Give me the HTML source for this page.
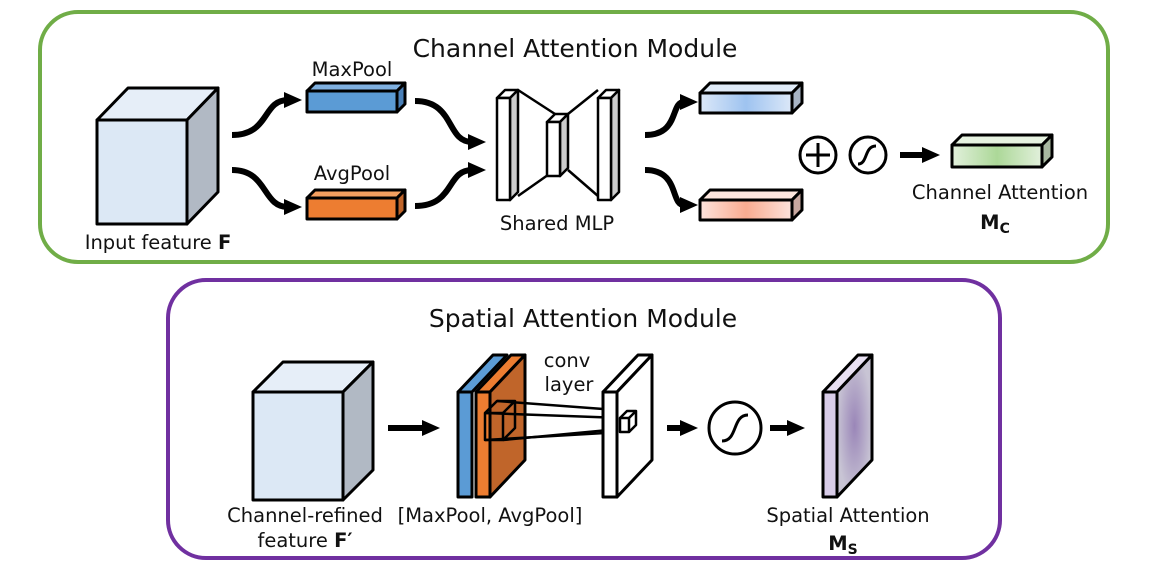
<!DOCTYPE html>
<html><head><meta charset="utf-8"><style>
body{margin:0;background:#fff}
svg{display:block}
text{font-family:"DejaVu Sans","Liberation Sans",sans-serif;fill:#111}
</style></head><body>
<svg width="1171" height="577" viewBox="0 0 1171 577" xmlns="http://www.w3.org/2000/svg">
<defs>
<marker id="ah" markerWidth="20" markerHeight="20" refX="4" refY="9" orient="auto" markerUnits="userSpaceOnUse">
<path d="M0,1 L18,9 L0,17 Z" fill="#000"/></marker>
<linearGradient id="gb" x1="0" x2="1"><stop offset="0" stop-color="#dce8f8"/><stop offset=".5" stop-color="#9ec3f0"/><stop offset="1" stop-color="#dce8f8"/></linearGradient>
<linearGradient id="gp" x1="0" x2="1"><stop offset="0" stop-color="#fde3dc"/><stop offset=".5" stop-color="#f9ab90"/><stop offset="1" stop-color="#fde3dc"/></linearGradient>
<linearGradient id="gg" x1="0" x2="1"><stop offset="0" stop-color="#e2f0dc"/><stop offset=".5" stop-color="#acd898"/><stop offset="1" stop-color="#e2f0dc"/></linearGradient>
<radialGradient id="gm"><stop offset="0" stop-color="#9a86b8"/><stop offset="1" stop-color="#c8c4d4"/></radialGradient>
</defs>
<g stroke="#000" stroke-width="3" stroke-linejoin="round">
<rect x="40" y="12" width="1068" height="250" rx="38" fill="none" stroke="#70ad47" stroke-width="4"/>
<rect x="168" y="280" width="832" height="278" rx="38" fill="none" stroke="#7030a0" stroke-width="4"/>

<polygon points="97,120 128,88 218,88 187,120" fill="#e6eef8"/>
<polygon points="187,120 218,88 218,192 187,224" fill="#b1b9c4"/>
<rect x="97" y="120" width="90" height="104" fill="#dce8f5"/>

<polygon points="307,91 315,83 405,83 397,91" fill="#7fb0e0"/>
<polygon points="397,91 405,83 405,104 397,112" fill="#4a80b8"/>
<rect x="307" y="91" width="90" height="21" fill="#5b9bd5"/>
<polygon points="307,198 315,190 405,190 397,198" fill="#f4a060"/>
<polygon points="397,198 405,190 405,211 397,219" fill="#c0652a"/>
<rect x="307" y="198" width="90" height="21" fill="#ed7d31"/>

<g fill="none" stroke-width="6">
<path d="M232,135 C270,135 262,100 288,100" marker-end="url(#ah)"/>
<path d="M232,170 C268,170 262,207 288,207" marker-end="url(#ah)"/>
<path d="M415,101 C455,101 446,142 472,142" marker-end="url(#ah)"/>
<path d="M415,206 C455,206 446,170 472,170" marker-end="url(#ah)"/>
<path d="M645,135 C680,135 670,102 684,102" marker-end="url(#ah)"/>
<path d="M645,170 C680,170 670,205 684,205" marker-end="url(#ah)"/>
<path d="M900,155 L926,155" marker-end="url(#ah)"/>
<path d="M388,428 L426,428" marker-end="url(#ah)"/>
<path d="M667,428 L684,428" marker-end="url(#ah)"/>
<path d="M770,428 L791,428" marker-end="url(#ah)"/>
</g>

<g stroke-width="2.5">
<line x1="518" y1="90" x2="555" y2="114"/><line x1="518" y1="196" x2="555" y2="170"/>
<line x1="598" y1="90" x2="568" y2="114"/><line x1="598" y1="196" x2="568" y2="170"/>
<polygon points="497,98 505,90 518,90 510,98" fill="#fff"/><polygon points="510,98 518,90 518,192 510,200" fill="#ccc"/><rect x="497" y="98" width="13" height="102" fill="#fff"/>
<polygon points="547,122 555,114 568,114 560,122" fill="#fff"/><polygon points="560,122 568,114 568,168 560,176" fill="#ccc"/><rect x="547" y="122" width="13" height="54" fill="#fff"/>
<polygon points="598,98 606,90 619,90 611,98" fill="#fff"/><polygon points="611,98 619,90 619,192 611,200" fill="#ccc"/><rect x="598" y="98" width="13" height="102" fill="#fff"/>
</g>

<polygon points="700,93 710,83 802,83 792,93" fill="#e0ebf8"/><polygon points="792,93 802,83 802,103 792,113" fill="#a8b4c4"/><rect x="700" y="93" width="92" height="20" fill="url(#gb)"/>
<polygon points="700,200 710,190 802,190 792,200" fill="#fde6de"/><polygon points="792,200 802,190 802,210 792,220" fill="#c8a8a0"/><rect x="700" y="200" width="92" height="20" fill="url(#gp)"/>
<polygon points="952,145 962,135 1052,135 1042,145" fill="#e6f2e0"/><polygon points="1042,145 1052,135 1052,157 1042,167" fill="#a8b8a0"/><rect x="952" y="145" width="90" height="22" fill="url(#gg)"/>

<circle cx="818" cy="155" r="18" fill="#fff"/>
<path d="M818,143 V167 M806,155 H830" fill="none"/>
<circle cx="868" cy="155" r="18" fill="#fff"/>
<path d="M858,164 C868,164 864,146 876,146" fill="none"/>

<polygon points="253,392 283,362 373,362 343,392" fill="#e6eef8"/>
<polygon points="343,392 373,362 373,470 343,500" fill="#b1b9c4"/>
<rect x="253" y="392" width="90" height="108" fill="#dce8f5"/>

<polygon points="458,392 493,355 507,355 472,392" fill="#5b9bd5"/>
<rect x="458" y="392" width="14" height="105" fill="#5b9bd5"/>
<polygon points="476,392 511,355 525,355 490,392" fill="#ed7d31"/>
<polygon points="490,392 525,355 525,460 490,497" fill="#c0652a"/>
<rect x="476" y="392" width="14" height="105" fill="#ed7d31"/>
<g fill="none" stroke-width="2.5">
<rect x="485" y="413" width="18" height="27"/><path d="M485,413 L497,401 H515 V428 L503,440 M503,413 L515,401"/>
<line x1="497" y1="401" x2="630" y2="411"/><line x1="485" y1="413" x2="622" y2="418"/><line x1="485" y1="440" x2="622" y2="432"/><line x1="503" y1="440" x2="630" y2="428"/>
</g>
<polygon points="603,392 638,355 652,355 617,392" fill="#fff"/>
<polygon points="617,392 652,355 652,460 617,497" fill="#fff"/>
<rect x="603" y="392" width="14" height="105" fill="#fff"/>
<g fill="none" stroke-width="2.5"><rect x="620" y="418" width="9" height="14"/><path d="M620,418 L627,411 H636 V425 L629,432 M629,418 L636,411"/></g>

<circle cx="735" cy="428" r="26" fill="#fff"/>
<path d="M722,441 C738,441 732,415 748,415" fill="none"/>

<polygon points="823,392 858,355 872,355 837,392" fill="#e8e0f2"/>
<polygon points="837,392 872,355 872,460 837,497" fill="url(#gm)"/>
<rect x="823" y="392" width="14" height="105" fill="#d8cce8"/>
</g>

<g font-size="19.5">
<text x="575" y="57" font-size="25" text-anchor="middle">Channel Attention Module</text>
<text x="352" y="76" text-anchor="middle">MaxPool</text>
<text x="352" y="180" text-anchor="middle">AvgPool</text>
<text x="158" y="249" text-anchor="middle">Input feature <tspan font-weight="bold">F</tspan></text>
<text x="557" y="230" text-anchor="middle">Shared MLP</text>
<text x="1000" y="199" text-anchor="middle">Channel Attention</text>
<text x="995" y="229" font-weight="bold" text-anchor="middle">M<tspan font-size="14" dy="4">C</tspan></text>
<text x="583" y="327" font-size="25" text-anchor="middle">Spatial Attention Module</text>
<text x="567" y="367" text-anchor="middle">conv</text>
<text x="569" y="391" text-anchor="middle">layer</text>
<text x="305" y="522" text-anchor="middle">Channel-refined</text>
<text x="305" y="547" text-anchor="middle">feature <tspan font-weight="bold">F′</tspan></text>
<text x="490" y="522" text-anchor="middle">[MaxPool, AvgPool]</text>
<text x="848" y="522" text-anchor="middle">Spatial Attention</text>
<text x="843" y="550" font-weight="bold" text-anchor="middle">M<tspan font-size="14" dy="4">S</tspan></text>
</g>
</svg>
</body></html>
